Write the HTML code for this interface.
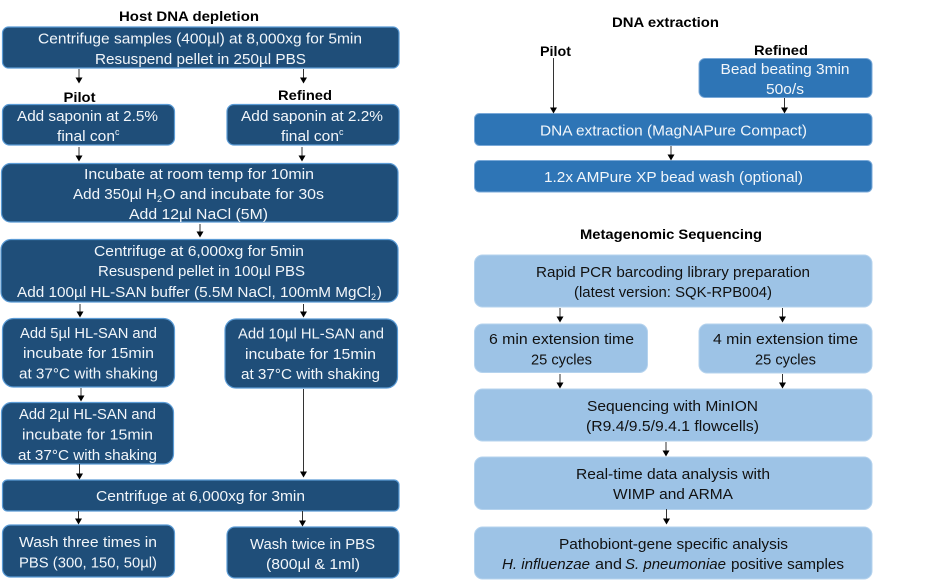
<!DOCTYPE html>
<html><head><meta charset="utf-8">
<style>
html,body{margin:0;padding:0;background:#fff;width:929px;height:583px;overflow:hidden}
svg{display:block}
text{font-family:"Liberation Sans",sans-serif;font-size:14.5px}
.w{fill:#f2f6fa}
.k{fill:#111}
.b{fill:#000;font-weight:bold;font-size:13.5px}
.d{fill:#1f4e79;stroke:#5b9bd5;stroke-width:1.2}
.m{fill:#2e75b6;stroke:#7aa9d8;stroke-width:1}
.l{fill:#9dc3e6;stroke:#b5d3ee;stroke-width:1}
.a{stroke:#333;stroke-width:1;fill:none}
.h{fill:#000}
</style></head><body>
<svg width="929" height="583" viewBox="0 0 929 583" xmlns="http://www.w3.org/2000/svg">
<!-- Left boxes -->
<rect class="d" x="2.5" y="27" width="396.5" height="41" rx="6"/>
<rect class="d" x="2.5" y="104.5" width="172" height="40.5" rx="7"/>
<rect class="d" x="227" y="104.5" width="172" height="40.5" rx="7"/>
<rect class="d" x="1.5" y="163.5" width="396.5" height="58.5" rx="9"/>
<rect class="d" x="1" y="239.5" width="397" height="62.5" rx="10"/>
<rect class="d" x="2.5" y="318.5" width="172" height="68.5" rx="11"/>
<rect class="d" x="225" y="319" width="172.5" height="69" rx="11"/>
<rect class="d" x="1.5" y="402.5" width="172" height="61.5" rx="10"/>
<rect class="d" x="2.5" y="480" width="396.5" height="31" rx="5"/>
<rect class="d" x="2.5" y="525" width="172" height="52" rx="8"/>
<rect class="d" x="227" y="527" width="172" height="51" rx="8"/>
<!-- Right boxes -->
<rect class="m" x="699" y="58.5" width="173" height="39" rx="6"/>
<rect class="m" x="474.5" y="113.5" width="397.5" height="32" rx="5"/>
<rect class="m" x="474.5" y="160.5" width="397.5" height="31.5" rx="5"/>
<rect class="l" x="474.5" y="255" width="397.5" height="52" rx="8"/>
<rect class="l" x="474.5" y="324" width="173" height="48.5" rx="8"/>
<rect class="l" x="699" y="324" width="173" height="49" rx="8"/>
<rect class="l" x="474.5" y="389" width="397.5" height="52" rx="8"/>
<rect class="l" x="474.5" y="457" width="397.5" height="52.5" rx="8"/>
<rect class="l" x="474.5" y="527" width="397.5" height="52" rx="8"/>
<!-- Arrows -->
<g class="a">
<path d="M79 69V78M303.5 69V78M79 147V156M302 147V156M200 224V232M80 304V312M303.5 304V312M81 388V396M303.5 389V472M79.5 464V474M302.5 511V521M78.5 511V519"/>
<path d="M553.5 58V108M784.5 98V108M671 146V155M560 308V317M782.5 308V317M560 374V383M782.5 374V383M666 442V451M666.5 509V519"/>
</g>
<g class="h">
<path d="M75.5 77.5h7l-3.5 6zM300 77.5h7l-3.5 6zM75.5 155.5h7l-3.5 6zM298.5 155.5h7l-3.5 6zM196.5 231.5h7l-3.5 6zM76.5 311.5h7l-3.5 6zM300 311.5h7l-3.5 6zM77.5 395.5h7l-3.5 6zM300 471.5h7l-3.5 6zM76 473.5h7l-3.5 6zM299 520.5h7l-3.5 6zM75 518.5h7l-3.5 6z"/>
<path d="M550 107.5h7l-3.5 6zM781 107.5h7l-3.5 6zM667.5 154.5h7l-3.5 6zM556.5 316.5h7l-3.5 6zM779 316.5h7l-3.5 6zM556.5 382.5h7l-3.5 6zM779 382.5h7l-3.5 6zM662.5 450.5h7l-3.5 6zM663 518.5h7l-3.5 6z"/>
</g>
<!-- Bold labels -->
<text class="b" x="119" y="21" textLength="140" lengthAdjust="spacingAndGlyphs">Host DNA depletion</text>
<text class="b" x="63.5" y="102" textLength="32" lengthAdjust="spacingAndGlyphs">Pilot</text>
<text class="b" x="278" y="100" textLength="54" lengthAdjust="spacingAndGlyphs">Refined</text>
<text class="b" x="612" y="27" textLength="107" lengthAdjust="spacingAndGlyphs">DNA extraction</text>
<text class="b" x="540" y="56" textLength="31" lengthAdjust="spacingAndGlyphs">Pilot</text>
<text class="b" x="754" y="55" textLength="54" lengthAdjust="spacingAndGlyphs">Refined</text>
<text class="b" x="580" y="239" textLength="182" lengthAdjust="spacingAndGlyphs">Metagenomic Sequencing</text>
<!-- Left text -->
<g class="w">
<text x="38" y="43.5" textLength="324" lengthAdjust="spacingAndGlyphs">Centrifuge samples (400µl) at 8,000xg for 5min</text>
<text x="95" y="64" textLength="211" lengthAdjust="spacingAndGlyphs">Resuspend pellet  in 250µl PBS</text>
<text x="17" y="121" textLength="141" lengthAdjust="spacingAndGlyphs">Add saponin at 2.5%</text>
<text x="57" y="141" textLength="58" lengthAdjust="spacingAndGlyphs">final con</text>
<text x="115" y="135" style="font-size:9px">c</text>
<text x="241" y="121" textLength="142" lengthAdjust="spacingAndGlyphs">Add saponin at 2.2%</text>
<text x="281" y="141" textLength="58" lengthAdjust="spacingAndGlyphs">final con</text>
<text x="339" y="135" style="font-size:9px">c</text>
<text x="84" y="179" textLength="230" lengthAdjust="spacingAndGlyphs">Incubate at room temp for 10min</text>
<text x="73" y="199" textLength="84" lengthAdjust="spacingAndGlyphs">Add 350µl H</text>
<text x="157" y="202" style="font-size:9px">2</text>
<text x="163" y="199" textLength="161" lengthAdjust="spacingAndGlyphs">O  and incubate for 30s</text>
<text x="129" y="219" textLength="139" lengthAdjust="spacingAndGlyphs">Add  12µl NaCl (5M)</text>
<text x="94" y="256" textLength="210" lengthAdjust="spacingAndGlyphs">Centrifuge at 6,000xg for 5min</text>
<text x="98" y="276" textLength="207" lengthAdjust="spacingAndGlyphs">Resuspend pellet in 100µl PBS</text>
<text x="17" y="297" textLength="354" lengthAdjust="spacingAndGlyphs">Add 100µl HL-SAN buffer (5.5M NaCl, 100mM MgCl</text>
<text x="371" y="300" style="font-size:9px">2</text>
<text x="377" y="297">)</text>
<text x="20" y="338" textLength="137" lengthAdjust="spacingAndGlyphs">Add 5µl HL-SAN and</text>
<text x="23" y="358" textLength="131" lengthAdjust="spacingAndGlyphs">incubate for 15min</text>
<text x="19" y="378.5" textLength="139" lengthAdjust="spacingAndGlyphs">at 37°C with shaking</text>
<text x="238" y="338.5" textLength="146" lengthAdjust="spacingAndGlyphs">Add 10µl HL-SAN and</text>
<text x="245" y="359" textLength="131" lengthAdjust="spacingAndGlyphs">incubate for 15min</text>
<text x="241" y="379" textLength="139" lengthAdjust="spacingAndGlyphs">at 37°C with shaking</text>
<text x="19" y="419" textLength="137" lengthAdjust="spacingAndGlyphs">Add 2µl HL-SAN and</text>
<text x="22" y="439.5" textLength="131" lengthAdjust="spacingAndGlyphs">incubate for 15min</text>
<text x="18" y="460" textLength="139" lengthAdjust="spacingAndGlyphs">at 37°C with shaking</text>
<text x="96" y="501" textLength="209" lengthAdjust="spacingAndGlyphs">Centrifuge at 6,000xg for 3min</text>
<text x="19" y="547" textLength="138" lengthAdjust="spacingAndGlyphs">Wash three times in</text>
<text x="19" y="567.5" textLength="138" lengthAdjust="spacingAndGlyphs">PBS (300, 150, 50µl)</text>
<text x="250" y="549" textLength="125" lengthAdjust="spacingAndGlyphs">Wash twice in PBS</text>
<text x="266" y="569" textLength="94" lengthAdjust="spacingAndGlyphs">(800µl &amp; 1ml)</text>
<!-- Mid blue text -->
<text x="720.5" y="74" textLength="129" lengthAdjust="spacingAndGlyphs">Bead beating 3min</text>
<text x="766" y="94" textLength="38" lengthAdjust="spacingAndGlyphs">50o/s</text>
<text x="540" y="135.5" textLength="267" lengthAdjust="spacingAndGlyphs">DNA extraction (MagNAPure Compact)</text>
<text x="544" y="182" textLength="259" lengthAdjust="spacingAndGlyphs">1.2x AMPure XP bead wash (optional)</text>
</g>
<!-- Light blue text -->
<g class="k">
<text x="536" y="277" textLength="274" lengthAdjust="spacingAndGlyphs">Rapid PCR barcoding library preparation</text>
<text x="574" y="297" textLength="198" lengthAdjust="spacingAndGlyphs">(latest version: SQK-RPB004)</text>
<text x="489" y="344" textLength="145" lengthAdjust="spacingAndGlyphs">6 min extension time</text>
<text x="531" y="364.5" textLength="61" lengthAdjust="spacingAndGlyphs">25 cycles</text>
<text x="713" y="344" textLength="145" lengthAdjust="spacingAndGlyphs">4 min extension time</text>
<text x="755" y="364.5" textLength="61" lengthAdjust="spacingAndGlyphs">25 cycles</text>
<text x="587" y="411" textLength="171" lengthAdjust="spacingAndGlyphs">Sequencing with MinION</text>
<text x="586" y="431" textLength="173" lengthAdjust="spacingAndGlyphs">(R9.4/9.5/9.4.1 flowcells)</text>
<text x="576" y="479" textLength="194" lengthAdjust="spacingAndGlyphs">Real-time data analysis with</text>
<text x="613" y="499" textLength="120" lengthAdjust="spacingAndGlyphs">WIMP and ARMA</text>
<text x="559" y="549" textLength="229" lengthAdjust="spacingAndGlyphs">Pathobiont-gene specific analysis</text>
<text x="502" y="569" textLength="88" lengthAdjust="spacingAndGlyphs" font-style="italic">H. influenzae</text>
<text x="595" y="569" textLength="27" lengthAdjust="spacingAndGlyphs">and</text>
<text x="625" y="569" textLength="101" lengthAdjust="spacingAndGlyphs" font-style="italic">S. pneumoniae</text>
<text x="731" y="569" textLength="113" lengthAdjust="spacingAndGlyphs">positive samples</text>
</g>
</svg>
</body></html>
